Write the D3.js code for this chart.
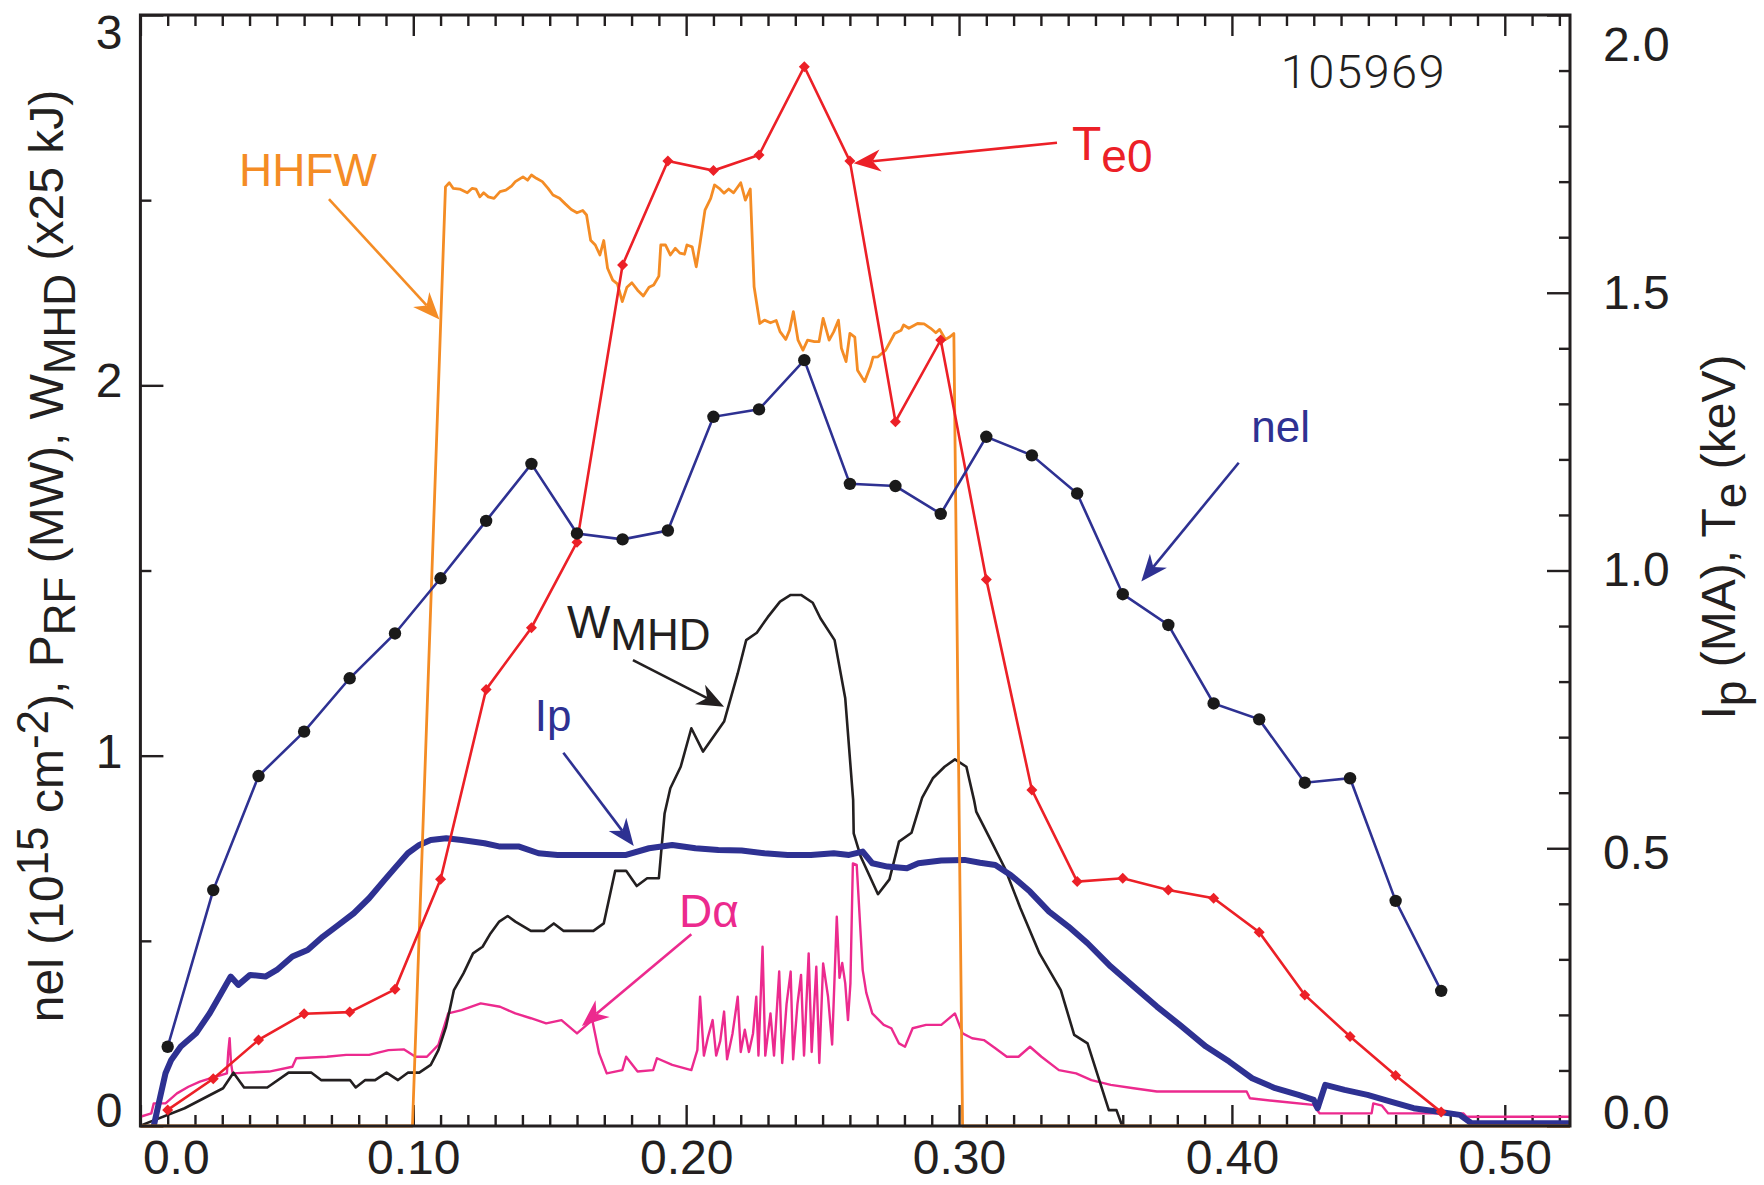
<!DOCTYPE html>
<html>
<head>
<meta charset="utf-8">
<script src="https://cdnjs.cloudflare.com/ajax/libs/d3/7.8.5/d3.min.js"></script>
<style>
  html, body { margin: 0; padding: 0; background: #ffffff; }
  svg { display: block; }
  text { font-family: "Liberation Sans", Arial, Helvetica, sans-serif; }
</style>
</head>
<body>
<svg id="chart" width="1764" height="1185"></svg>
<script>
// ---------------------------------------------------------------
// Shot 105969: HHFW-heated discharge time traces
// ---------------------------------------------------------------

// Thomson scattering time base (s), shared by nel and Te0
const tsTimes = [0.0100, 0.0267, 0.0433, 0.0600, 0.0767, 0.0933, 0.1100, 0.1267, 0.1433, 0.1600,
                 0.1767, 0.1933, 0.2100, 0.2267, 0.2433, 0.2600, 0.2767, 0.2933, 0.3100, 0.3267,
                 0.3433, 0.3600, 0.3767, 0.3933, 0.4100, 0.4267, 0.4433, 0.4600, 0.4767];

// Line-integrated density nel (10^15 cm^-2), left axis
const nelValues = [0.214, 0.637, 0.945, 1.065, 1.209, 1.330, 1.479, 1.634, 1.788, 1.600,
                   1.584, 1.608, 1.915, 1.935, 2.068, 1.734, 1.728, 1.653, 1.861, 1.811,
                   1.708, 1.436, 1.353, 1.141, 1.098, 0.927, 0.939, 0.608, 0.365];

// Central electron temperature Te0 (keV), right axis
const te0Values = [0.029, 0.085, 0.155, 0.202, 0.205, 0.246, 0.444, 0.786, 0.897, 1.051,
                   1.550, 1.737, 1.720, 1.748, 1.907, 1.737, 1.268, 1.415, 0.984, 0.605,
                   0.440, 0.446, 0.425, 0.410, 0.349, 0.236, 0.161, 0.091, 0.025];

// HHFW power P_RF (MW), left axis: [t, P]
const hhfwTrace = [[0, 0], [0.0997, 0], [0.1118, 2.536], [0.1132, 2.547], [0.1146, 2.532], [0.117, 2.53],
  [0.1198, 2.52], [0.1216, 2.532], [0.123, 2.53], [0.1244, 2.509], [0.1258, 2.52], [0.1275, 2.509],
  [0.1296, 2.505], [0.1318, 2.523], [0.1339, 2.527], [0.136, 2.538], [0.1374, 2.55], [0.1402, 2.563],
  [0.1419, 2.554], [0.1433, 2.568], [0.1451, 2.559], [0.1473, 2.55], [0.1494, 2.532], [0.1512, 2.514],
  [0.1536, 2.505], [0.1557, 2.49], [0.1579, 2.475], [0.16, 2.466], [0.1621, 2.472], [0.1635, 2.46],
  [0.165, 2.392], [0.1667, 2.379], [0.1684, 2.352], [0.1698, 2.391], [0.1712, 2.316], [0.1731, 2.284],
  [0.1748, 2.274], [0.1766, 2.226], [0.1783, 2.265], [0.1801, 2.277], [0.1822, 2.257], [0.1843, 2.241],
  [0.1864, 2.265], [0.1881, 2.271], [0.19, 2.295], [0.1907, 2.379], [0.1924, 2.379], [0.1942, 2.352],
  [0.196, 2.37], [0.1977, 2.357], [0.1994, 2.354], [0.2003, 2.379], [0.2022, 2.374], [0.2037, 2.32],
  [0.2051, 2.384], [0.2069, 2.473], [0.209, 2.505], [0.2104, 2.541], [0.2121, 2.532], [0.2139, 2.519],
  [0.2156, 2.53], [0.2174, 2.52], [0.22, 2.547], [0.2217, 2.5], [0.2235, 2.53], [0.2249, 2.266],
  [0.227, 2.167], [0.2287, 2.176], [0.2309, 2.169], [0.233, 2.175], [0.2344, 2.145], [0.2365, 2.124],
  [0.2379, 2.149], [0.2393, 2.199], [0.241, 2.122], [0.2428, 2.095], [0.2445, 2.122], [0.247, 2.118],
  [0.2487, 2.118], [0.2502, 2.181], [0.2524, 2.122], [0.2541, 2.145], [0.2558, 2.176], [0.2569, 2.1],
  [0.2586, 2.064], [0.26, 2.14], [0.2618, 2.13], [0.2628, 2.041], [0.2654, 2.01], [0.2675, 2.05],
  [0.2685, 2.076], [0.2703, 2.077], [0.2731, 2.095], [0.2764, 2.14], [0.2788, 2.149], [0.2797, 2.163],
  [0.2816, 2.154], [0.2848, 2.167], [0.2872, 2.166], [0.2896, 2.154], [0.2915, 2.142], [0.2929, 2.151],
  [0.295, 2.124], [0.2967, 2.131], [0.2981, 2.14], [0.3013, 0], [0.5239, 0]];

// Stored energy W_MHD (x25 kJ), left axis: [t, W]
const wmhdTrace = [[0.0007, 0.003], [0.0162, 0.048], [0.0303, 0.102], [0.0341, 0.144], [0.038, 0.104],
  [0.0465, 0.104], [0.0543, 0.144], [0.0627, 0.144], [0.0662, 0.124], [0.0768, 0.124], [0.0789, 0.104],
  [0.0824, 0.124], [0.086, 0.124], [0.0902, 0.144], [0.0944, 0.124], [0.098, 0.144], [0.1022, 0.144],
  [0.1064, 0.165], [0.1092, 0.205], [0.112, 0.268], [0.1149, 0.367], [0.1184, 0.412], [0.1219, 0.466],
  [0.1254, 0.484], [0.1283, 0.52], [0.1315, 0.552], [0.1346, 0.567], [0.1374, 0.552], [0.1431, 0.527],
  [0.148, 0.527], [0.1515, 0.547], [0.155, 0.527], [0.166, 0.527], [0.1698, 0.547], [0.174, 0.689],
  [0.178, 0.689], [0.1819, 0.648], [0.1857, 0.669], [0.19, 0.669], [0.1921, 0.844], [0.1942, 0.912],
  [0.198, 0.97], [0.2019, 1.074], [0.2062, 1.011], [0.2139, 1.092], [0.2189, 1.222], [0.222, 1.312],
  [0.2259, 1.332], [0.2299, 1.374], [0.2344, 1.416], [0.2383, 1.434], [0.2421, 1.434], [0.2464, 1.413],
  [0.2492, 1.371], [0.2544, 1.312], [0.2583, 1.155], [0.2612, 0.88], [0.2614, 0.79], [0.264, 0.727],
  [0.2703, 0.626], [0.2745, 0.666], [0.278, 0.768], [0.2826, 0.792], [0.2865, 0.887], [0.2904, 0.939],
  [0.2947, 0.97], [0.2985, 0.99], [0.3027, 0.97], [0.3055, 0.88], [0.3063, 0.849], [0.3119, 0.768],
  [0.3168, 0.696], [0.3225, 0.588], [0.3295, 0.466], [0.3373, 0.367], [0.3422, 0.246], [0.3471, 0.223],
  [0.3506, 0.142], [0.3549, 0.043], [0.3577, 0.043], [0.3598, 0]];

// Plasma current Ip (MA), right axis: [t, Ip]
const ipTrace = [[0.0049, 0], [0.007, 0.047], [0.0092, 0.095], [0.0113, 0.119], [0.0148, 0.143],
  [0.0204, 0.167], [0.0254, 0.203], [0.0296, 0.239], [0.0331, 0.269], [0.0359, 0.254], [0.0402, 0.272],
  [0.0458, 0.269], [0.05, 0.281], [0.0557, 0.305], [0.0613, 0.317], [0.0669, 0.341], [0.0726, 0.362],
  [0.0782, 0.383], [0.0838, 0.41], [0.0895, 0.443], [0.0937, 0.467], [0.098, 0.491], [0.1022, 0.506],
  [0.1064, 0.515], [0.1121, 0.518], [0.1177, 0.515], [0.1261, 0.509], [0.1318, 0.503], [0.1388, 0.503],
  [0.1459, 0.491], [0.1529, 0.488], [0.16, 0.488], [0.1695, 0.488], [0.178, 0.488], [0.1864, 0.5],
  [0.1949, 0.506], [0.2034, 0.5], [0.2118, 0.497], [0.2203, 0.496], [0.2287, 0.491], [0.2372, 0.488],
  [0.2457, 0.488], [0.2541, 0.491], [0.2597, 0.488], [0.2647, 0.494], [0.2682, 0.473], [0.2738, 0.467],
  [0.2809, 0.464], [0.2851, 0.473], [0.2935, 0.478], [0.302, 0.479], [0.3077, 0.474], [0.3133, 0.47],
  [0.3189, 0.452], [0.326, 0.422], [0.333, 0.386], [0.3401, 0.359], [0.3471, 0.329], [0.3556, 0.287],
  [0.364, 0.251], [0.3725, 0.215], [0.3809, 0.182], [0.3905, 0.143], [0.399, 0.116], [0.4074, 0.086],
  [0.4159, 0.068], [0.4244, 0.056], [0.43, 0.047], [0.4314, 0.032], [0.4342, 0.074], [0.4413, 0.065],
  [0.4497, 0.056], [0.4582, 0.044], [0.4666, 0.032], [0.4751, 0.026], [0.4835, 0.02], [0.4878, 0.005],
  [0.5005, 0.005], [0.5146, 0.005], [0.5237, 0.005]];

// D-alpha emission (arb. units, plotted on the left scale): [t, Dα]
const dalphaTrace = [[0.0, 0.025], [0.004, 0.034], [0.0049, 0.061], [0.0092, 0.061], [0.0134, 0.088],
  [0.0176, 0.106], [0.0218, 0.12], [0.0275, 0.133], [0.0317, 0.142], [0.0322, 0.2], [0.0327, 0.237],
  [0.0332, 0.17], [0.0338, 0.142], [0.0388, 0.144], [0.0472, 0.147], [0.0557, 0.16], [0.0571, 0.183],
  [0.0683, 0.187], [0.0754, 0.192], [0.0838, 0.192], [0.0909, 0.205], [0.0965, 0.207], [0.1008, 0.187],
  [0.105, 0.187], [0.1092, 0.219], [0.1128, 0.304], [0.1177, 0.313], [0.1247, 0.331], [0.1318, 0.322],
  [0.1374, 0.304], [0.1431, 0.291], [0.1487, 0.277], [0.1543, 0.286], [0.16, 0.25], [0.1656, 0.286],
  [0.1681, 0.196], [0.1709, 0.142], [0.1766, 0.151], [0.178, 0.187], [0.1822, 0.147], [0.1879, 0.151],
  [0.1893, 0.183], [0.1949, 0.165], [0.2019, 0.151], [0.2041, 0.205], [0.2051, 0.349], [0.2065, 0.19],
  [0.208, 0.24], [0.2097, 0.286], [0.211, 0.19], [0.2125, 0.23], [0.2139, 0.309], [0.215, 0.18],
  [0.217, 0.25], [0.2189, 0.349], [0.22, 0.2], [0.2215, 0.26], [0.223, 0.2], [0.2245, 0.25],
  [0.2257, 0.349], [0.2265, 0.19], [0.228, 0.484], [0.229, 0.19], [0.2309, 0.304], [0.2322, 0.19],
  [0.2341, 0.417], [0.2352, 0.17], [0.2368, 0.33], [0.2383, 0.417], [0.2392, 0.18], [0.2408, 0.33],
  [0.2421, 0.408], [0.2432, 0.19], [0.2449, 0.466], [0.246, 0.2], [0.2477, 0.43], [0.2488, 0.17],
  [0.2502, 0.439], [0.252, 0.349], [0.2535, 0.22], [0.2552, 0.565], [0.2562, 0.4], [0.2572, 0.44],
  [0.2583, 0.385], [0.2593, 0.286], [0.2602, 0.385], [0.2611, 0.709], [0.2625, 0.705], [0.2647, 0.421],
  [0.266, 0.36], [0.2682, 0.304], [0.2724, 0.273], [0.2752, 0.264], [0.278, 0.223], [0.2802, 0.214],
  [0.283, 0.264], [0.2879, 0.273], [0.2935, 0.273], [0.2985, 0.304], [0.3013, 0.25], [0.3048, 0.237],
  [0.3091, 0.232], [0.3133, 0.21], [0.3175, 0.187], [0.3218, 0.187], [0.326, 0.214], [0.3302, 0.187],
  [0.3366, 0.151], [0.3429, 0.142], [0.3485, 0.124], [0.3556, 0.111], [0.364, 0.102], [0.3725, 0.093],
  [0.3809, 0.093], [0.4054, 0.093], [0.4066, 0.075], [0.4176, 0.066], [0.4298, 0.057], [0.4322, 0.034],
  [0.4512, 0.034], [0.4518, 0.061], [0.455, 0.055], [0.4573, 0.034], [0.4848, 0.034], [0.486, 0.025],
  [0.5238, 0.025]];

// Axis ticks and labels
const xMajorTicks = [0, 0.1, 0.2, 0.3, 0.4, 0.5];
const xTickLabels = ["0.0", "0.10", "0.20", "0.30", "0.40", "0.50"];
const leftMajorTicks = [0, 1, 2, 3];
const leftTickLabels = ["0", "1", "2", "3"];
const leftMinorTicks = [0.5, 1.5, 2.5];
const rightMajorTicks = [0, 0.5, 1.0, 1.5, 2.0];
const rightTickLabels = ["0.0", "0.5", "1.0", "1.5", "2.0"];
const rightMinorTicks = [0.1, 0.2, 0.3, 0.4, 0.6, 0.7, 0.8, 0.9, 1.1, 1.2, 1.3, 1.4, 1.6, 1.7, 1.8, 1.9];

// Colours
const C = {
  axis: "#231f20",
  nel: "#2e3192",
  te: "#ec2027",
  hhfw: "#f48c25",
  wmhd: "#231f20",
  ip: "#2e3192",
  dalpha: "#ec2a8e"
};

// ---------------------------------------------------------------
const W = 1764, H = 1185;
const margin = { top: 15, right: 194, bottom: 59, left: 140.4 };
const svg = d3.select("#chart");

const x = d3.scaleLinear().domain([0, 0.5239]).range([margin.left, W - margin.right]);
const yL = d3.scaleLinear().domain([0, 3]).range([H - margin.bottom, margin.top]);
const yR = d3.scaleLinear().domain([0, 2]).range([H - margin.bottom, margin.top]);

const xMinorTicks = d3.range(1, 53).map(i => i / 100).filter(v => Math.round(v * 100) % 10 !== 0);

const FONT = 48;

function styleAxis(g) {
  g.select(".domain").remove();
  g.selectAll(".tick line").attr("stroke", C.axis).attr("stroke-width", 2.4);
  g.selectAll(".tick text").attr("fill", C.axis).style("font-size", FONT + "px")
    .style("font-family", '"Liberation Sans", Arial, sans-serif');
}

const bottomY = H - margin.bottom, topY = margin.top;
const leftX = margin.left, rightX = W - margin.right;

// bottom axis: majors with labels, minors inward
svg.append("g").attr("transform", `translate(0,${bottomY})`)
  .call(d3.axisBottom(x).tickValues(xMajorTicks).tickSize(-21).tickSizeOuter(0).tickPadding(14)
    .tickFormat((d, i) => xTickLabels[i]))
  .call(styleAxis)
  .call(g => g.selectAll(".tick text").filter(d => d === 0).attr("text-anchor", "start").attr("x", 2));
svg.append("g").attr("transform", `translate(0,${bottomY})`)
  .call(d3.axisBottom(x).tickValues(xMinorTicks).tickSize(-11).tickSizeOuter(0).tickFormat(""))
  .call(styleAxis);

// top axis: ticks only
svg.append("g").attr("transform", `translate(0,${topY})`)
  .call(d3.axisTop(x).tickValues(xMajorTicks).tickSize(-21).tickSizeOuter(0).tickFormat(""))
  .call(styleAxis);
svg.append("g").attr("transform", `translate(0,${topY})`)
  .call(d3.axisTop(x).tickValues(xMinorTicks).tickSize(-11).tickSizeOuter(0).tickFormat(""))
  .call(styleAxis);

// left axis
svg.append("g").attr("transform", `translate(${leftX},0)`)
  .call(d3.axisLeft(yL).tickValues(leftMajorTicks).tickSize(-23).tickSizeOuter(0).tickPadding(18)
    .tickFormat((d, i) => leftTickLabels[i]))
  .call(styleAxis)
  .call(g => {
    g.selectAll(".tick text").filter(d => d === 3).attr("dy", "0.70em");
    g.selectAll(".tick text").filter(d => d === 0).attr("dy", "0.02em");
    g.selectAll(".tick text").filter(d => d === 1 || d === 2).attr("dy", "0.24em");
  });
svg.append("g").attr("transform", `translate(${leftX},0)`)
  .call(d3.axisLeft(yL).tickValues(leftMinorTicks).tickSize(-11).tickSizeOuter(0).tickFormat(""))
  .call(styleAxis);

// right axis
svg.append("g").attr("transform", `translate(${rightX},0)`)
  .call(d3.axisRight(yR).tickValues(rightMajorTicks).tickSize(-23).tickSizeOuter(0).tickPadding(33)
    .tickFormat((d, i) => rightTickLabels[i]))
  .call(styleAxis)
  .call(g => {
    g.selectAll(".tick text").filter(d => d === 2).attr("dy", "0.95em");
    g.selectAll(".tick text").filter(d => d === 0).attr("dy", "0.05em");
    g.selectAll(".tick text").filter(d => d === 0.5).attr("dy", "0.42em");
  });
svg.append("g").attr("transform", `translate(${rightX},0)`)
  .call(d3.axisRight(yR).tickValues(rightMinorTicks).tickSize(-11).tickSizeOuter(0).tickFormat(""))
  .call(styleAxis);

// ---------------------------------------------------------------
// data traces
const plot = svg.append("g");

const lineL = d3.line().x(d => x(d[0])).y(d => yL(d[1]));
const lineR = d3.line().x(d => x(d[0])).y(d => yR(d[1]));

plot.append("path").datum(dalphaTrace).attr("d", lineL)
  .attr("fill", "none").attr("stroke", C.dalpha).attr("stroke-width", 2.4).attr("stroke-linejoin", "round");

plot.append("path").datum(wmhdTrace).attr("d", lineL)
  .attr("fill", "none").attr("stroke", C.wmhd).attr("stroke-width", 2.6).attr("stroke-linejoin", "round");

plot.append("path").datum(ipTrace).attr("d", lineR)
  .attr("fill", "none").attr("stroke", C.ip).attr("stroke-width", 6).attr("stroke-linejoin", "round");

plot.append("path").datum(hhfwTrace).attr("d", lineL)
  .attr("fill", "none").attr("stroke", C.hhfw).attr("stroke-width", 2.8).attr("stroke-linejoin", "round");

const teData = tsTimes.map((t, i) => [t, te0Values[i]]);
plot.append("path").datum(teData).attr("d", lineR)
  .attr("fill", "none").attr("stroke", C.te).attr("stroke-width", 2.6);
plot.selectAll(".te-mark").data(teData).enter().append("path")
  .attr("class", "te-mark")
  .attr("transform", d => `translate(${x(d[0])},${yR(d[1])})`)
  .attr("d", "M0,-5.5L5.5,0L0,5.5L-5.5,0Z")
  .attr("fill", C.te);

const nelData = tsTimes.map((t, i) => [t, nelValues[i]]);
plot.append("path").datum(nelData).attr("d", lineL)
  .attr("fill", "none").attr("stroke", C.nel).attr("stroke-width", 2.6);
plot.selectAll(".nel-mark").data(nelData).enter().append("circle")
  .attr("class", "nel-mark")
  .attr("cx", d => x(d[0])).attr("cy", d => yL(d[1])).attr("r", 6.2)
  .attr("fill", "#1a1a1a");

// plot frame
svg.append("rect")
  .attr("x", leftX).attr("y", topY)
  .attr("width", rightX - leftX).attr("height", bottomY - topY)
  .attr("fill", "none").attr("stroke", C.axis).attr("stroke-width", 3);

// ---------------------------------------------------------------
// axis titles
function richText(g, parts, size, subSize, shift) {
  let offset = 0;
  parts.forEach(([str, kind]) => {
    const target = kind === "sup" ? -shift.sup : kind === "sub" ? shift.sub : 0;
    g.append("tspan")
      .attr("dy", target - offset)
      .style("font-size", (kind ? subSize : size) + "px")
      .text(str);
    offset = target;
  });
}

const leftTitle = svg.append("text")
  .attr("transform", `translate(63,556) rotate(-90)`)
  .attr("text-anchor", "middle").attr("fill", C.axis).style("font-size", "48px");
richText(leftTitle, [["nel (10", null], ["15", "sup"], [" cm", null], ["-2", "sup"], ["), P", null],
  ["RF", "sub"], [" (MW), W", null], ["MHD", "sub"], [" (x25 kJ)", null]], 48, 44, { sup: 15, sub: 12 });

const rightTitle = svg.append("text")
  .attr("transform", `translate(1735,537) rotate(-90)`)
  .attr("text-anchor", "middle").attr("fill", C.axis).style("font-size", "48px");
richText(rightTitle, [["I", null], ["p", "sub"], [" (MA), T", null], ["e", "sub"], [" (keV)", null]],
  48, 46, { sup: 15, sub: 11 });

// ---------------------------------------------------------------
// annotations (positions in data units: time, left-axis value)
const annotations = [
  { label: [["HHFW", null]], color: C.hhfw, at: [0.0361, 2.538], size: 46,
    from: [0.0691, 2.503], to: [0.1096, 2.178] },
  { label: [["T", null], ["e0", "sub"]], color: C.te, at: [0.3414, 2.608], size: 48,
    from: [0.3359, 2.655], to: [0.2614, 2.600] },
  { label: [["nel", null]], color: C.nel, at: [0.4071, 1.847], size: 44,
    from: [0.4025, 1.791], to: [0.3668, 1.470] },
  { label: [["W", null], ["MHD", "sub"]], color: C.wmhd, at: [0.1563, 1.318], size: 46,
    from: [0.1805, 1.258], to: [0.2139, 1.132] },
  { label: [["Ip", null]], color: C.ip, at: [0.1445, 1.067], size: 44,
    from: [0.155, 1.008], to: [0.1808, 0.756] },
  { label: [["Dα", null]], color: C.dalpha, at: [0.1974, 0.538], size: 46,
    from: [0.2019, 0.518], to: [0.1618, 0.270] }
];

function drawArrow(g, from, to, color) {
  const x1 = x(from[0]), y1 = yL(from[1]), x2 = x(to[0]), y2 = yL(to[1]);
  const a = Math.atan2(y2 - y1, x2 - x1);
  const ux = Math.cos(a), uy = Math.sin(a), px = -uy, py = ux;
  const L = 27, Wd = 11, N = 8;
  g.append("line")
    .attr("x1", x1).attr("y1", y1)
    .attr("x2", x2 - ux * (L - N)).attr("y2", y2 - uy * (L - N))
    .attr("stroke", color).attr("stroke-width", 2.6);
  const p = d3.path();
  p.moveTo(x2, y2);
  p.lineTo(x2 - ux * L + px * Wd, y2 - uy * L + py * Wd);
  p.lineTo(x2 - ux * (L - N), y2 - uy * (L - N));
  p.lineTo(x2 - ux * L - px * Wd, y2 - uy * L - py * Wd);
  p.closePath();
  g.append("path").attr("d", p.toString()).attr("fill", color);
}

const ann = svg.append("g");
annotations.forEach(a => {
  const t = ann.append("text")
    .attr("x", x(a.at[0])).attr("y", yL(a.at[1]))
    .attr("fill", a.color).style("font-size", a.size + "px");
  richText(t, a.label, a.size, a.size - 2, { sup: 14, sub: 12 });
  drawArrow(ann, a.from, a.to, a.color);
});

// shot number
svg.append("text")
  .attr("x", x(0.4179)).attr("y", yL(2.803))
  .attr("fill", C.axis)
  .style("font-family", 'Roboto, "Liberation Sans", sans-serif')
  .style("font-weight", 300)
  .style("font-size", "47px")
  .style("letter-spacing", "1.5px")
  .text("105969");
</script>
</body>
</html>
